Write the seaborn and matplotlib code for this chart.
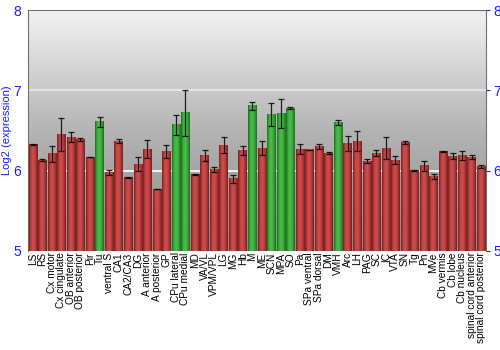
import matplotlib
matplotlib.use("Agg")
import matplotlib.pyplot as plt
import matplotlib.colors as mcolors
import numpy as np
import pandas as pd
import seaborn as sns

regions = [
    "LS", "RS", "Cx motor", "Cx cingulate", "OB anterior", "OB posterior",
    "Pir", "Tu", "ventral S", "CA1", "CA2/CA3", "DG", "A anterior",
    "A posterior", "GP", "CPu lateral", "CPu medial", "MD", "VA/VL",
    "VPM/VPL", "LG", "MG", "Hb", "M", "ME", "SCN", "MPA", "SO", "Pa",
    "SPa ventral", "SPa dorsal", "DM", "VMH", "Arc", "LH", "PAG", "SC", "IC",
    "VTA", "SN", "Tg", "Pn", "MVe", "Cb vermis", "Cb lobe", "Cb nucleus",
    "spinal cord anterior", "spinal cord posterior",
]
expression = [
    6.33, 6.13, 6.21, 6.45, 6.42, 6.39,
    6.17, 6.61, 5.98, 6.37, 5.92, 6.08, 6.27,
    5.77, 6.24, 6.57, 6.72, 5.95, 6.19,
    6.01, 6.32, 5.90, 6.25, 6.81, 6.28, 6.70, 6.71, 6.78, 6.27,
    6.26, 6.30, 6.22, 6.60, 6.34, 6.37, 6.12, 6.22, 6.28,
    6.13, 6.35, 6.00, 6.06, 5.93, 6.24, 6.18, 6.19,
    6.17, 6.05,
]
error = [
    0.005, 0.01, 0.10, 0.21, 0.06, 0.02,
    0.003, 0.06, 0.03, 0.02, 0.005, 0.09, 0.11,
    0.003, 0.08, 0.12, 0.29, 0.01, 0.07,
    0.03, 0.10, 0.05, 0.06, 0.05, 0.09, 0.14, 0.18, 0.015, 0.06,
    0.003, 0.03, 0.015, 0.03, 0.09, 0.12, 0.03, 0.04, 0.14,
    0.05, 0.015, 0.005, 0.06, 0.03, 0.003, 0.035, 0.06,
    0.02, 0.015,
]
highlighted = ["Tu", "CPu lateral", "CPu medial", "M", "SCN", "MPA", "SO", "VMH"]

df = pd.DataFrame({"region": regions, "expression": expression, "err": error})
df["group"] = np.where(df["region"].isin(highlighted), "high", "other")

blue = "#1a1aff"
font = "Liberation Sans"
fig = plt.figure(figsize=(5, 3.5), dpi=100)
ax = fig.add_axes([0.056, 0.283, 0.916, 0.688])

# gradient background
bg = mcolors.LinearSegmentedColormap.from_list("bg", ["#8a8a8a", "#b4b4b4", "#f2f2f2"])
ax.imshow(np.linspace(0, 1, 256).reshape(-1, 1), cmap=bg, aspect="auto",
          extent=[-0.5, len(regions) - 0.5, 5, 8], origin="lower", zorder=0)
ax.axhline(6, color="white", lw=1.2, zorder=1)
ax.axhline(7, color="#e4e4e4", lw=1.5, zorder=1)

sns.barplot(data=df, x="region", y="expression", hue="group",
            palette={"high": "#35a335", "other": "#b83a3a"}, dodge=False,
            width=0.88, legend=False, ax=ax, zorder=2)

# cylinder shading on each bar
shades = {
    "high": mcolors.LinearSegmentedColormap.from_list(
        "g", ["#1d6e1d", "#3fb03f", "#4cbc4c", "#38a338", "#1f6a1f"]),
    "other": mcolors.LinearSegmentedColormap.from_list(
        "r", ["#7a1e1e", "#c04444", "#cc5050", "#b43a3a", "#761c1c"]),
}
grad = np.linspace(0, 1, 64).reshape(1, -1)
for i, row in df.iterrows():
    x0 = i - 0.44
    ax.imshow(grad, cmap=shades[row["group"]], aspect="auto",
              extent=[x0, x0 + 0.88, 5, row["expression"]], zorder=3)
for p in ax.patches:
    p.set_edgecolor("none")

ax.errorbar(np.arange(len(regions)), df["expression"], yerr=df["err"],
            fmt="none", ecolor="black", elinewidth=0.9, capsize=2.2,
            capthick=0.9, alpha=0.85, zorder=4)

ax.set_xlim(-0.5, len(regions) - 0.5)
ax.set_ylim(5, 8)
ax.set_yticks([5, 6, 7, 8])
ax.set_xlabel("")
ax.set_ylabel("Log2 (expression)", color=blue, fontsize=8, labelpad=1,
              family=font)
ax.tick_params(axis="y", colors=blue, labelsize=10, length=3, pad=2,
               labelright=True, right=True, left=False)
for t in ax.yaxis.get_ticklines():
    t.set_color("black")
ax.tick_params(axis="x", length=0, pad=1)
ax.set_xticks(np.arange(len(regions)))
ax.set_xticklabels(regions, rotation=90, fontsize=7.3, family=font)
for lab in ax.get_yticklabels():
    lab.set_family(font)
for s in ["left", "right", "top"]:
    ax.spines[s].set_color("#707070")
    ax.spines[s].set_linewidth(0.8)
ax.spines["bottom"].set_visible(False)

fig.savefig("out.png", dpi=100)
